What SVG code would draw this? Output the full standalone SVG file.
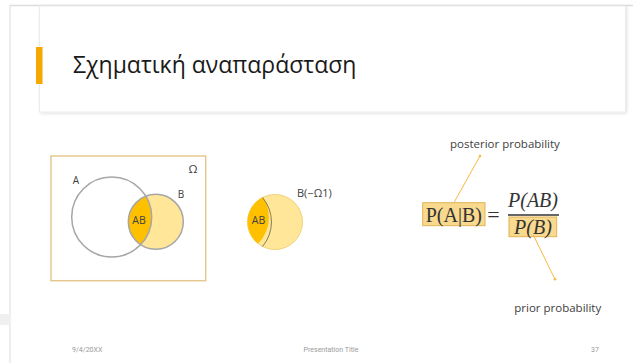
<svg xmlns="http://www.w3.org/2000/svg" width="633" height="363" viewBox="0 0 633 363">
<defs>
<style>
.lbl{font-family:"Open Sans","Noto Sans",sans-serif;fill:#404040}
.foot{font-family:"Roboto","Liberation Sans",sans-serif;font-size:7px;fill:#9a9a9a}
.math{font-family:"Liberation Serif","DejaVu Serif",serif;fill:#333}
.ring{fill:none;stroke:#a6a6a6;stroke-width:1.5}
.lead{stroke:#f5b942;stroke-width:1;fill:none}
.hl{fill:#f8d98e;stroke:#e2b256;stroke-width:1}
</style>
<filter id="sh" x="-5%" y="-10%" width="110%" height="130%">
<feDropShadow dx="1" dy="1" stdDeviation="1.5" flood-color="#000" flood-opacity="0.12"/>
</filter>
<clipPath id="clipA"><circle cx="111.7" cy="217" r="40"/></clipPath>
<clipPath id="clipA2"><circle cx="230.9" cy="217.2" r="38"/></clipPath>
</defs>
<rect width="633" height="363" fill="#fff"/>
<g id="frame">
<line x1="10" y1="5.5" x2="633" y2="5.5" stroke="#dcdcdc" stroke-width="1.5"/>
<line x1="10" y1="5" x2="10" y2="363" stroke="#e2e2e2" stroke-width="1.2"/>
<rect x="0" y="314" width="10" height="11" fill="#f0f0f0"/>
</g>
<g id="title-card">
<rect x="39.5" y="6" width="586" height="106" fill="#fff" stroke="#ececec" stroke-width="1" filter="url(#sh)"/>
<rect x="36" y="47" width="6.5" height="37" fill="#f5a800"/>
<text x="73" y="73" font-family="'Open Sans','Noto Sans',sans-serif" font-size="23" fill="#1a1a1a">Σχηματική αναπαράσταση</text>
</g>
<g id="venn-omega">
<rect x="51" y="156" width="154.7" height="124.7" fill="#fff" stroke="#e5c88e" stroke-width="1.5"/>
<circle cx="111.7" cy="217" r="40" fill="#fff"/>
<circle cx="155.8" cy="221.8" r="27.5" fill="#ffe699"/>
<circle cx="155.8" cy="221.8" r="27.5" fill="#ffc000" clip-path="url(#clipA)"/>
<circle cx="111.7" cy="217" r="40" class="ring"/>
<circle cx="155.8" cy="221.8" r="27.5" class="ring"/>
<text class="lbl" x="76" y="183.5" font-size="10" text-anchor="middle">A</text>
<text class="lbl" x="181" y="198" font-size="10" text-anchor="middle">B</text>
<text class="lbl" x="193" y="173" font-size="11.5" text-anchor="middle">Ω</text>
<text class="lbl" x="139" y="224" font-size="10.5" text-anchor="middle" fill="#333">AB</text>
</g>
<g id="venn-b">
<circle cx="275" cy="222" r="27.5" fill="#ffe699" stroke="#f0d27a" stroke-width="1"/>
<circle cx="275" cy="222" r="27.5" fill="#ffc000" clip-path="url(#clipA2)"/>
<path d="M 262.5 197.5 A 38 38 0 0 1 262.5 246.5" fill="none" stroke="#8a7a50" stroke-width="1"/>
<text class="lbl" x="258.5" y="224" font-size="10.5" text-anchor="middle" fill="#333">AB</text>
<text class="lbl" x="297" y="197" font-size="11">B(−Ω1)</text>
</g>
<g id="formula">
<rect class="hl" x="422.7" y="202.7" width="62.3" height="23"/>
<text class="math" x="453.8" y="221.5" font-size="20" text-anchor="middle">P(A|B)</text>
<text class="math" x="493.5" y="221.5" font-size="22" text-anchor="middle">=</text>
<text class="math" x="533" y="206.5" font-size="20" font-style="italic" text-anchor="middle">P(AB)</text>
<line x1="508" y1="215" x2="559" y2="215" stroke="#333" stroke-width="1.3"/>
<rect class="hl" x="509" y="217" width="47.7" height="19.7"/>
<text class="math" x="533" y="233.5" font-size="20" font-style="italic" text-anchor="middle">P(B)</text>
</g>
<g id="connectors">
<line class="lead" x1="454.3" y1="202" x2="480" y2="156"/>
<circle cx="480" cy="156" r="1.3" fill="#f5b942"/>
<line class="lead" x1="533.3" y1="235" x2="555" y2="279.3"/>
<circle cx="555" cy="279.3" r="1.3" fill="#f5b942"/>
</g>
<g id="labels">
<text class="lbl" x="450" y="148" font-size="11.5">posterior probability</text>
<text class="lbl" x="514.3" y="311.5" font-size="11.5">prior probability</text>
</g>
<g id="footer">
<text class="foot" x="72" y="352">9/4/20XX</text>
<text class="foot" x="331" y="352" text-anchor="middle">Presentation Title</text>
<text class="foot" x="591" y="352">37</text>
</g>
</svg>
